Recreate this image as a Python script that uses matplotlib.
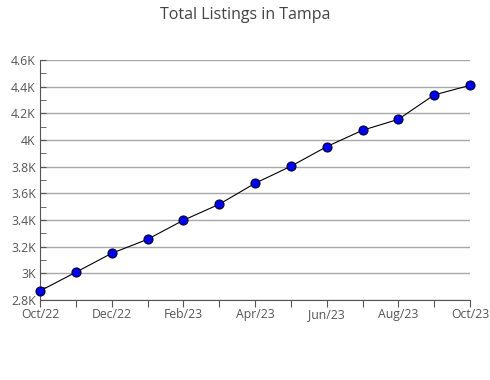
import matplotlib
matplotlib.use("Agg")
import matplotlib.pyplot as plt
from matplotlib.ticker import MultipleLocator, FuncFormatter

months = ["Oct/22", "Nov/22", "Dec/22", "Jan/23", "Feb/23", "Mar/23", "Apr/23",
          "May/23", "Jun/23", "Jul/23", "Aug/23", "Sep/23", "Oct/23"]
listings = [2868, 3008, 3150, 3255, 3398, 3518, 3675, 3803, 3950, 4073, 4155, 4338, 4410]
y_ticks = [2800, 3000, 3200, 3400, 3600, 3800, 4000, 4200, 4400, 4600]

plt.rcParams['font.family'] = ['Open Sans', 'DejaVu Sans']

fig = plt.figure(figsize=(4.9, 3.8), dpi=100)
ax = fig.add_axes([40/490, 80/380, 430/490, 240/380])

x = list(range(len(months)))
ax.plot(x, listings, color="black", lw=0.8, marker="o", markersize=6.5,
        markerfacecolor="#0000ee", markeredgecolor="#000033", markeredgewidth=0.8,
        zorder=3, clip_on=False)

ax.set_xlim(0, len(months) - 1)
ax.set_ylim(2800, 4600)
ax.set_yticks(y_ticks)
ax.yaxis.set_minor_locator(MultipleLocator(100))
def kfmt(v, pos):
    s = f"{v/1000:.1f}".rstrip("0").rstrip(".")
    return s + "K"
ax.yaxis.set_major_formatter(FuncFormatter(kfmt))
ax.set_xticks(x)
ax.set_xticklabels([m if i % 2 == 0 else "" for i, m in enumerate(months)])

ax.grid(axis="y", color="#a8a8a8", lw=1)
ax.set_axisbelow(True)
for s in ["top", "right"]:
    ax.spines[s].set_visible(False)
for s in ["left", "bottom"]:
    ax.spines[s].set_color("#555555")
    ax.spines[s].set_linewidth(0.8)

ax.tick_params(axis="y", which="both", direction="in", length=4, color="#555555",
               labelsize=8.8, labelcolor="#555555", pad=3)
ax.tick_params(axis="x", direction="out", length=5, color="#555555",
               labelsize=8.8, labelcolor="#555555", pad=1)

fig.text(0.5, 1 - 15/380, "Total Listings in Tampa", ha="center", va="center",
         fontsize=11.5, color="#444444")

fig.savefig("out.png", dpi=100)
